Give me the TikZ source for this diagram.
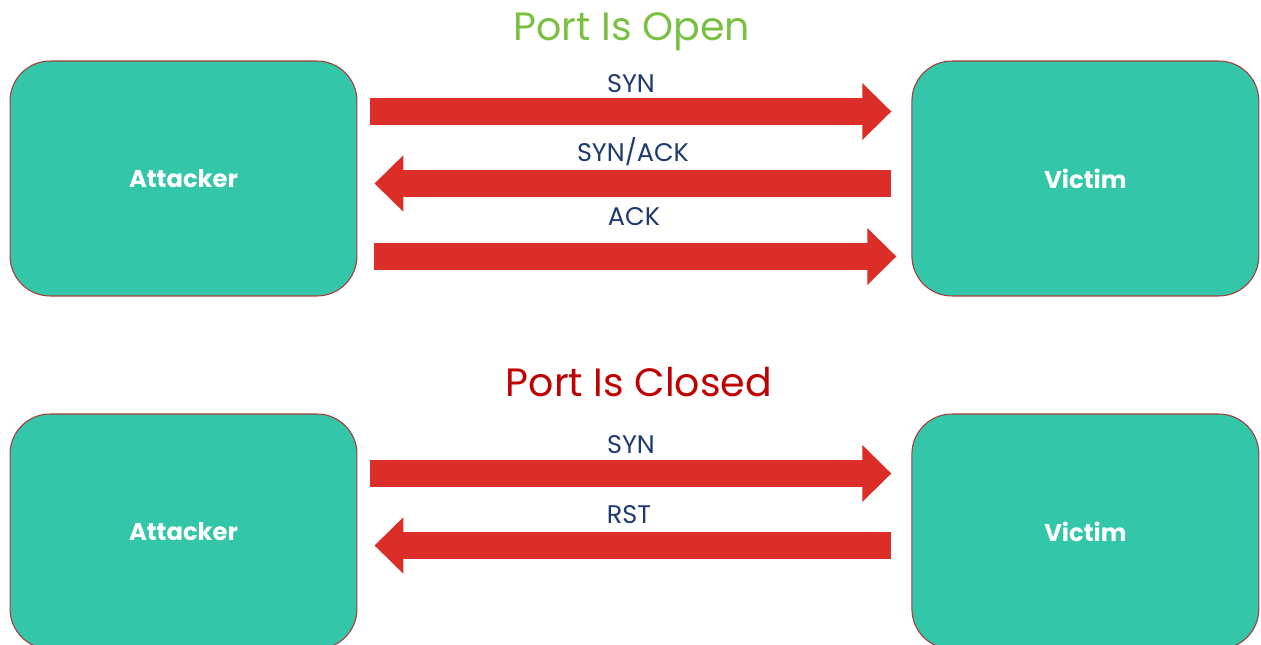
\documentclass[tikz,border=0pt]{standalone}
\usepackage{fontspec}
\setmainfont{Poppins}
\usepackage{xcolor}
\usetikzlibrary{arrows.meta,positioning}

\definecolor{hostgreen}{HTML}{33C6A8}
\definecolor{hostedge}{HTML}{A83A3A}
\definecolor{pktred}{HTML}{DC2E28}
\definecolor{pktlabel}{HTML}{1F3A6E}
\definecolor{opengreen}{HTML}{7AC143}
\definecolor{closedred}{HTML}{C00000}

\begin{document}
\begin{tikzpicture}[x=0.02cm, y=-0.02cm, node distance=11.08cm,
    host/.style={rectangle, rounded corners=0.8cm, draw=hostedge, line width=0.6pt, fill=hostgreen,
      minimum width=6.94cm, minimum height=4.7cm, text=white, font=\bfseries\fontsize{13.8}{16}\selectfont},
    packet/.style={draw=pktred, line width=0.54cm, -{Triangle[width=1.1cm, length=0.58cm]}},
    pktname/.style={text=pktlabel, font=\fontsize{14.5}{16}\selectfont},
    heading/.style={font=\fontsize{22.5}{27}\selectfont}]
    \useasboundingbox (0,0) rectangle (1261,645);

    % port open
    \node (open) [heading, text=opengreen] at (632,32) {Port Is Open};
    \node (att1) [host] at (183.5,178.5) {Attacker};
    \node (vic1) [host, right=of att1] {Victim};

    \draw [packet, shorten <=0.26cm, shorten >=0.4cm] (att1.east |- 0,111.5) -- (vic1.west |- 0,111.5);
    \draw [packet, shorten <=0.4cm, shorten >=0.34cm] (vic1.west |- 0,183.5) -- (att1.east |- 0,183.5);
    \draw [packet, shorten <=0.34cm, shorten >=0.3cm] (att1.east |- 0,256.5) -- (vic1.west |- 0,256.5);
    \node (syn1) [pktname] at (631,84) {SYN};
    \node (synack1) [pktname] at (633,152) {SYN/ACK};
    \node (ack1) [pktname] at (634,217) {ACK};

    % port closed
    \node (closed) [heading, text=closedred] at (639,382) {Port Is Closed};
    \node (att2) [host, below=2.34cm of att1] {Attacker};
    \node (vic2) [host, right=of att2] {Victim};

    \draw [packet, shorten <=0.26cm, shorten >=0.4cm] (att2.east |- 0,473.5) -- (vic2.west |- 0,473.5);
    \draw [packet, shorten <=0.4cm, shorten >=0.34cm] (vic2.west |- 0,545.5) -- (att2.east |- 0,545.5);
    \node (syn2) [pktname] at (631,445) {SYN};
    \node (rst2) [pktname] at (629,515) {RST};
\end{tikzpicture}
\end{document}
